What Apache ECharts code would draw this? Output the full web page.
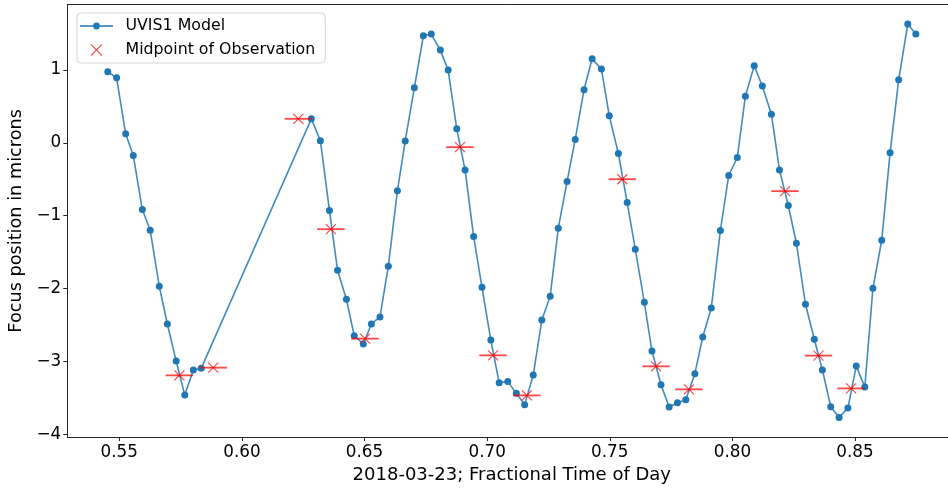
<!DOCTYPE html>
<html>
<head>
<meta charset="utf-8">
<script src="https://cdn.jsdelivr.net/npm/echarts@6/dist/echarts.min.js"></script>
<style>
html,body{margin:0;padding:0;background:#fff;overflow:hidden;}
#chart{width:948px;height:490px;}
</style>
</head>
<body>
<div id="chart"></div>
<script>
// UVIS1 model (fractional time of day, focus in microns)
const modelX = [0.5453,0.5489,0.5526,0.5557,0.5594,0.5626,0.5663,0.5696,0.5732,0.5767,0.5802,0.5834,
  0.6283,0.6320,0.6357,0.6390,0.6426,0.6458,0.6495,0.6528,0.6563,0.6597,0.6634,0.6666,0.6703,0.6740,
  0.6772,0.6809,0.6841,0.6876,0.6910,0.6945,0.6979,0.7015,0.7049,0.7084,0.7119,0.7153,0.7188,0.7223,
  0.7257,0.7290,0.7326,0.7359,0.7395,0.7428,0.7466,0.7498,0.7535,0.7571,0.7604,0.7641,0.7672,0.7709,
  0.7742,0.7776,0.7810,0.7847,0.7879,0.7914,0.7951,0.7985,0.8020,0.8053,0.8089,0.8122,0.8159,0.8192,
  0.8228,0.8261,0.8298,0.8334,0.8367,0.8401,0.8435,0.8471,0.8505,0.8540,0.8573,0.8609,0.8643,0.8678,
  0.8715,0.8748];
const modelY = [0.975,0.893,0.124,-0.173,-0.915,-1.199,-1.968,-2.486,-2.995,-3.462,-3.118,-3.095,
  0.330,0.030,-0.929,-1.749,-2.147,-2.646,-2.761,-2.486,-2.390,-1.694,-0.659,0.027,0.755,1.470,
  1.493,1.273,0.999,0.192,-0.371,-1.286,-1.982,-2.706,-3.291,-3.277,-3.438,-3.593,-3.187,-2.431,
  -2.106,-1.172,-0.530,0.047,0.728,1.154,1.012,0.371,-0.146,-0.819,-1.460,-2.188,-2.857,-3.319,
  -3.626,-3.566,-3.525,-3.168,-2.665,-2.266,-1.203,-0.448,-0.201,0.641,1.058,0.779,0.394,-0.371,
  -0.860,-1.378,-2.216,-2.696,-3.118,-3.621,-3.768,-3.640,-3.063,-3.352,-1.996,-1.337,-0.137,0.865,
  1.630,1.493];
// Midpoints of observation with half-exposure horizontal error
const midX = [0.5745,0.5883,0.6230,0.6363,0.6502,0.6889,0.7024,0.7162,0.7551,0.7689,0.7823,0.8215,0.8351,0.8484];
const midY = [-3.191,-3.085,0.330,-1.185,-2.687,-0.059,-2.916,-3.466,-0.499,-3.067,-3.383,-0.663,-2.920,-3.370];
const midErr = [0.0056,0.0056,0.0056,0.0056,0.0056,0.0056,0.0056,0.0056,0.0056,0.0056,0.0056,0.0056,0.0056,0.0056];
// Axis ticks
const xTicks = [0.55,0.60,0.65,0.70,0.75,0.80,0.85];
const yTicks = [-4,-3,-2,-1,0,1];

const FONT = 'DejaVu Sans';
const RED = 'rgba(255,0,0,0.72)';
const BLUE = '#1f77b4';
const SPINE = '#262626';
const modelData = modelX.map((x,i)=>[x,modelY[i]]);
const midData = midX.map((x,i)=>[x,midY[i],midErr[i]]);

const chart = echarts.init(document.getElementById('chart'), null, {renderer:'canvas'});
chart.setOption({
  animation:false,
  backgroundColor:'#fff',
  grid:{left:67.3, top:4.7, bottom:53, right:-8.3, outerBoundsMode:'none', containLabel:false, show:false},
  legend:{
    orient:'vertical', left:77, top:13,
    padding:[4,10,4,3], itemGap:6, itemWidth:33, itemHeight:12,
    backgroundColor:'rgba(255,255,255,0.8)', borderColor:'#d5d5d5', borderWidth:1, borderRadius:4,
    textStyle:{fontFamily:FONT, fontSize:15.8, color:'#000', lineHeight:18, padding:[0,0,0,7.5]},
    data:[
      {name:'UVIS1 Model', icon:'path://M0,5.25H13.2V6.75H0Z M19.8,5.25H33V6.75H19.8Z M13.1,6a3.4,3.4 0 1,0 6.8,0a3.4,3.4 0 1,0 -6.8,0Z', itemStyle:{color:BLUE}},
      {name:'Midpoint of Observation', icon:'path://M0,0.7L0.7,0L5,4.3L9.3,0L10,0.7L5.7,5L10,9.3L9.3,10L5,5.7L0.7,10L0,9.3L4.3,5Z', itemStyle:{color:RED}}
    ]
  },
  xAxis:[{
    type:'value', min:0.5288, max:0.8913, position:'bottom',
    name:'2018-03-23; Fractional Time of Day', nameLocation:'middle', nameGap:26.5,
    nameTextStyle:{fontFamily:FONT, fontSize:18, color:'#000'},
    splitLine:{show:false},
    axisLine:{show:true, onZero:false, lineStyle:{color:SPINE, width:1}},
    axisTick:{show:true, inside:false, length:4, customValues:xTicks, lineStyle:{color:SPINE, width:1}},
    axisLabel:{customValues:xTicks, fontFamily:FONT, fontSize:16.8, color:'#000', margin:7, formatter:v=>v.toFixed(2)}
  },{
    type:'value', min:0.5288, max:0.8913, position:'top',
    splitLine:{show:false},
    axisLine:{show:true, onZero:false, lineStyle:{color:SPINE, width:1}},
    axisTick:{show:false}, axisLabel:{show:false}
  }],
  yAxis:{
    type:'value', min:-4.037, max:1.896, position:'left',
    name:'Focus position in microns', nameLocation:'middle', nameGap:39,
    nameTextStyle:{fontFamily:FONT, fontSize:17.7, color:'#000'},
    splitLine:{show:false},
    axisLine:{show:true, onZero:false, lineStyle:{color:SPINE, width:1}},
    axisTick:{show:true, inside:false, length:4, customValues:yTicks, lineStyle:{color:SPINE, width:1}},
    axisLabel:{customValues:yTicks, fontFamily:FONT, fontSize:16.8, color:'#000', margin:6, formatter:v=>v<0?'\u2212'+Math.abs(v):String(v)}
  },
  series:[
    {
      name:'UVIS1 Model', type:'line', data:modelData, xAxisIndex:0,
      symbol:'circle', symbolSize:7, showSymbol:true,
      itemStyle:{color:BLUE},
      lineStyle:{color:BLUE, width:1.6, opacity:0.85},
      z:2
    },
    {
      name:'Midpoint of Observation', type:'custom', data:midData, xAxisIndex:0,
      itemStyle:{color:RED},
      z:3,
      renderItem:function(params, api){
        const x = api.value(0), y = api.value(1), e = api.value(2);
        const c = api.coord([x,y]);
        const l = api.coord([x-e,y]);
        const r = api.coord([x+e,y]);
        const s = 5;
        const st = {stroke:RED, lineWidth:1.8, fill:null};
        const st2 = {stroke:RED, lineWidth:1.2, fill:null};
        return {type:'group', children:[
          {type:'line', shape:{x1:l[0],y1:c[1],x2:r[0],y2:c[1]}, style:st},
          {type:'line', shape:{x1:c[0]-s,y1:c[1]-s,x2:c[0]+s,y2:c[1]+s}, style:st2},
          {type:'line', shape:{x1:c[0]-s,y1:c[1]+s,x2:c[0]+s,y2:c[1]-s}, style:st2}
        ]};
      }
    }
  ]
});
</script>
</body>
</html>
